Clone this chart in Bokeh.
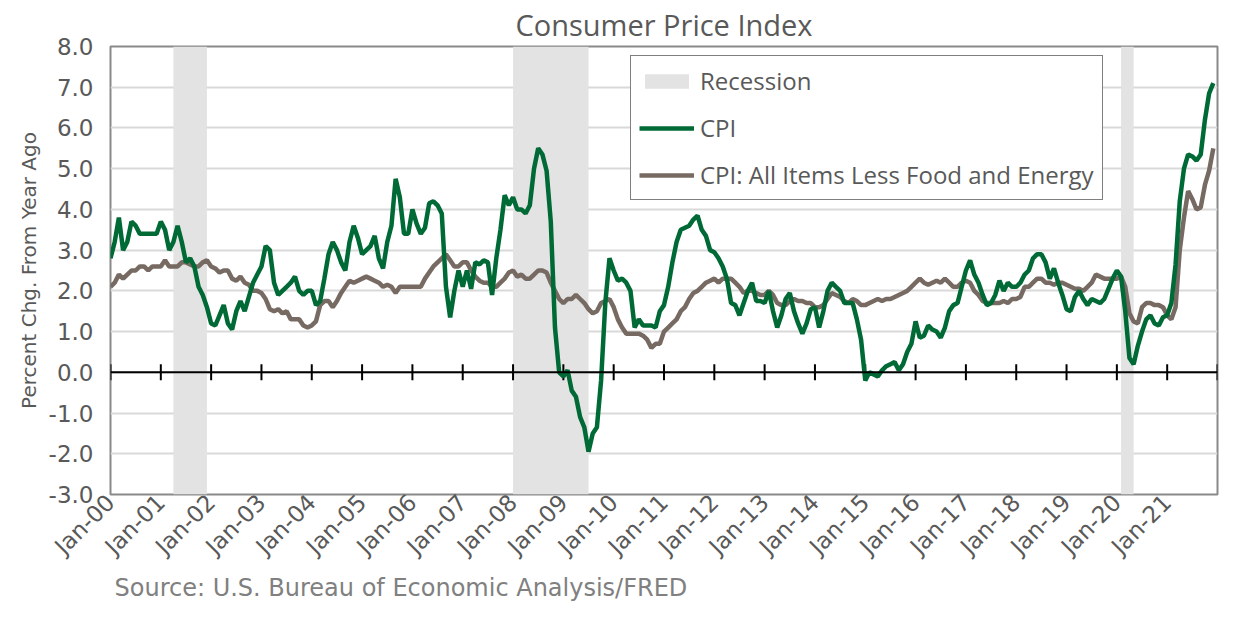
import math
from bokeh.plotting import figure
from bokeh.models import (Range1d, FixedTicker, Span, Legend, LegendItem, Title,
                          NumeralTickFormatter)
from bokeh.embed import file_html
from bokeh.resources import INLINE

# ---------------- data ----------------
start_year = 2000
years = list(range(2000, 2022))
tick_labels = ["Jan-%02d" % (y % 100) for y in years]

cpi = [
    2.8, 3.2, 3.8, 3.0, 3.2, 3.7, 3.6, 3.4, 3.4, 3.4, 3.4, 3.4,          # 2000
    3.7, 3.5, 3.0, 3.2, 3.6, 3.2, 2.7, 2.8, 2.6, 2.1, 1.9, 1.6,          # 2001
    1.2, 1.15, 1.4, 1.65, 1.2, 1.05, 1.5, 1.75, 1.5, 1.85, 2.2, 2.4,     # 2002
    2.6, 3.1, 3.0, 2.2, 1.9, 2.0, 2.1, 2.2, 2.35, 2.0, 1.9, 2.0,         # 2003
    2.0, 1.65, 1.75, 2.3, 2.9, 3.2, 3.0, 2.7, 2.5, 3.2, 3.6, 3.3,        # 2004
    2.9, 3.0, 3.1, 3.35, 2.8, 2.55, 3.2, 3.6, 4.75, 4.3, 3.4, 3.4,       # 2005
    4.0, 3.65, 3.4, 3.55, 4.15, 4.2, 4.1, 3.9, 2.1, 1.35, 2.0, 2.5,      # 2006
    2.1, 2.5, 2.05, 2.7, 2.65, 2.75, 2.7, 1.9, 2.8, 3.5, 4.35, 4.1,      # 2007
    4.3, 4.0, 4.0, 3.9, 4.1, 5.0, 5.5, 5.35, 4.95, 3.7, 1.1, 0.0,        # 2008
    -0.1, 0.05, -0.45, -0.6, -1.1, -1.35, -1.95, -1.5, -1.35, -0.2, 1.7, 2.8,  # 2009
    2.5, 2.25, 2.3, 2.2, 2.0, 1.1, 1.3, 1.15, 1.15, 1.15, 1.1, 1.5,      # 2010
    1.65, 2.1, 2.7, 3.2, 3.5, 3.55, 3.6, 3.75, 3.85, 3.5, 3.35, 3.0,     # 2011
    2.95, 2.8, 2.6, 2.3, 1.7, 1.65, 1.4, 1.7, 2.0, 2.2, 1.75, 1.75,      # 2012
    1.7, 2.0, 1.5, 1.1, 1.4, 1.8, 1.95, 1.5, 1.2, 0.95, 1.2, 1.55,       # 2013
    1.6, 1.1, 1.5, 2.0, 2.2, 2.1, 2.0, 1.7, 1.7, 1.7, 1.3, 0.8,          # 2014
    -0.2, 0.0, -0.05, -0.1, 0.05, 0.15, 0.2, 0.25, 0.05, 0.2, 0.5, 0.7,  # 2015
    1.25, 0.85, 0.9, 1.15, 1.05, 1.0, 0.85, 1.1, 1.5, 1.65, 1.7, 2.1,    # 2016
    2.5, 2.75, 2.4, 2.2, 1.9, 1.65, 1.7, 1.9, 2.25, 2.0, 2.2, 2.1,       # 2017
    2.1, 2.2, 2.4, 2.5, 2.8, 2.9, 2.9, 2.7, 2.3, 2.55, 2.2, 1.9,         # 2018
    1.55, 1.5, 1.85, 2.0, 1.8, 1.65, 1.8, 1.75, 1.7, 1.8, 2.05, 2.3,     # 2019
    2.5, 2.35, 1.5, 0.35, 0.2, 0.65, 1.0, 1.3, 1.4, 1.2, 1.15, 1.35,     # 2020
    1.4, 1.7, 2.65, 4.2, 5.0, 5.35, 5.3, 5.2, 5.35, 6.2, 6.85, 7.1,      # 2021
]

core = [
    2.1, 2.2, 2.4, 2.3, 2.4, 2.5, 2.5, 2.6, 2.6, 2.5, 2.6, 2.6,          # 2000
    2.6, 2.75, 2.6, 2.6, 2.6, 2.7, 2.7, 2.65, 2.6, 2.6, 2.7, 2.75,       # 2001
    2.6, 2.55, 2.45, 2.5, 2.5, 2.3, 2.25, 2.35, 2.2, 2.15, 2.0, 2.0,     # 2002
    1.95, 1.8, 1.55, 1.5, 1.55, 1.45, 1.5, 1.3, 1.3, 1.3, 1.15, 1.1,     # 2003
    1.15, 1.25, 1.65, 1.75, 1.75, 1.6, 1.75, 1.95, 2.1, 2.25, 2.2, 2.25, # 2004
    2.3, 2.35, 2.3, 2.25, 2.2, 2.1, 2.15, 2.1, 1.95, 2.1, 2.1, 2.1,      # 2005
    2.1, 2.1, 2.1, 2.3, 2.45, 2.6, 2.7, 2.8, 2.9, 2.75, 2.6, 2.6,        # 2006
    2.7, 2.7, 2.5, 2.35, 2.25, 2.2, 2.2, 2.1, 2.1, 2.2, 2.3, 2.45,       # 2007
    2.5, 2.35, 2.4, 2.3, 2.3, 2.4, 2.5, 2.5, 2.45, 2.2, 2.0, 1.8,        # 2008
    1.7, 1.8, 1.8, 1.9, 1.8, 1.7, 1.55, 1.45, 1.5, 1.7, 1.75, 1.8,       # 2009
    1.6, 1.3, 1.1, 0.95, 0.95, 0.95, 0.95, 0.9, 0.8, 0.6, 0.7, 0.7,      # 2010
    1.0, 1.1, 1.2, 1.3, 1.5, 1.6, 1.8, 1.95, 2.0, 2.1, 2.2, 2.25,        # 2011
    2.3, 2.2, 2.3, 2.3, 2.3, 2.2, 2.1, 1.95, 2.0, 2.0, 1.95, 1.9,        # 2012
    1.9, 2.0, 1.9, 1.7, 1.65, 1.65, 1.75, 1.8, 1.75, 1.75, 1.7, 1.7,     # 2013
    1.6, 1.6, 1.65, 1.8, 1.95, 1.9, 1.85, 1.75, 1.7, 1.8, 1.75, 1.65,    # 2014
    1.65, 1.7, 1.75, 1.8, 1.75, 1.8, 1.8, 1.85, 1.9, 1.95, 2.0, 2.1,     # 2015
    2.2, 2.3, 2.2, 2.15, 2.2, 2.25, 2.2, 2.3, 2.2, 2.1, 2.1, 2.2,        # 2016
    2.25, 2.2, 2.0, 1.9, 1.75, 1.7, 1.7, 1.7, 1.7, 1.75, 1.7, 1.8,       # 2017
    1.8, 1.85, 2.1, 2.1, 2.2, 2.3, 2.3, 2.2, 2.2, 2.15, 2.2, 2.2,        # 2018
    2.15, 2.1, 2.05, 2.05, 2.0, 2.1, 2.2, 2.4, 2.35, 2.3, 2.3, 2.3,      # 2019
    2.3, 2.35, 2.1, 1.45, 1.25, 1.2, 1.6, 1.7, 1.7, 1.65, 1.65, 1.6,     # 2020
    1.4, 1.3, 1.6, 3.0, 3.8, 4.45, 4.25, 4.0, 4.05, 4.6, 4.95, 5.5,      # 2021
]

# recessions (first month in recession, first month after)
rec_start = ["2001-04", "2008-01", "2020-02"]
rec_end = ["2001-12", "2009-07", "2020-05"]

y_min, y_max = -3.0, 8.0
y_ticks = list(range(-3, 9))
source_text = "Source: U.S. Bureau of Economic Analysis/FRED"

# ---------------- helpers ----------------
def month_index(s):
    yy, mm = s.split("-")
    return (int(yy) - start_year) * 12 + int(mm) - 1

months = list(range(len(cpi)))
n_months = (years[-1] + 1 - start_year) * 12
year_ticks = [(y - start_year) * 12 for y in years]
all_year_ticks = year_ticks + [n_months]
rec_l = [month_index(s) for s in rec_start]
rec_r = [month_index(s) for s in rec_end]

GREEN = "#006a37"
BROWN = "#766a62"
REC = "#e3e3e3"
TXT = "#595959"

p = figure(width=1220, height=601, x_range=Range1d(0, n_months), y_range=Range1d(y_min, y_max),
           output_backend="svg", toolbar_location=None,
           min_border_left=110, min_border_right=3, min_border_top=38, min_border_bottom=100)

p.title.text = "Consumer Price Index"
p.title.align = "center"
p.title.text_font = "Open Sans"
p.title.text_font_size = "29px"
p.title.text_font_style = "normal"
p.title.text_color = TXT
p.title.standoff = 5

p.outline_line_color = "#898989"
p.outline_line_width = 2
p.background_fill_color = "white"

# y axis
p.yaxis.ticker = FixedTicker(ticks=y_ticks)
p.yaxis.formatter = NumeralTickFormatter(format="0.0")
p.yaxis.axis_label = "Percent Chg. From Year Ago"
p.yaxis.axis_label_text_font = "DejaVu Sans"
p.yaxis.axis_label_text_font_size = "20px"
p.yaxis.axis_label_text_font_style = "normal"
p.yaxis.axis_label_text_color = TXT
p.yaxis.major_label_text_font = "DejaVu Sans"
p.yaxis.major_label_text_font_size = "23px"
p.yaxis.major_label_text_color = TXT
p.yaxis.axis_line_color = None
p.yaxis.major_tick_line_color = None
p.yaxis.minor_tick_line_color = None
p.yaxis.major_tick_out = 0
p.yaxis.major_label_standoff = 17

# x label axis (labels only)
p.xaxis.ticker = FixedTicker(ticks=year_ticks)
p.xaxis.major_label_overrides = {t: lab for t, lab in zip(year_ticks, tick_labels)}
p.xaxis.major_label_orientation = math.pi / 4
p.xaxis.major_label_text_font = "DejaVu Sans"
p.xaxis.major_label_text_font_size = "23px"
p.xaxis.major_label_text_color = TXT
p.xaxis.axis_line_color = None
p.xaxis.major_tick_line_color = None
p.xaxis.minor_tick_line_color = None
p.xaxis.major_tick_out = 0
p.xaxis.major_tick_in = 0
p.xaxis.major_label_standoff = 4

p.xgrid.grid_line_color = None
p.ygrid.ticker = FixedTicker(ticks=y_ticks)
p.ygrid.grid_line_color = "#d9d9d9"
p.ygrid.grid_line_width = 2

# recession bars
r_rec = p.quad(left=rec_l, right=rec_r, bottom=y_min, top=y_max, fill_color=REC, line_color=None)

# zero line with year tick marks
p.add_layout(Span(location=0, dimension="width", line_color="black", line_width=2))
p.scatter(x=all_year_ticks, y=[0] * len(all_year_ticks), marker="dash", size=16,
          angle=math.pi / 2, line_color="black", line_width=2)

r_core = p.line(months, core, line_color=BROWN, line_width=4.5)
r_cpi = p.line(months, cpi, line_color=GREEN, line_width=4.5)

legend = Legend(items=[LegendItem(label="Recession", renderers=[r_rec]),
                       LegendItem(label="CPI", renderers=[r_cpi]),
                       LegendItem(label="CPI: All Items Less Food and Energy", renderers=[r_core])],
                location=(520, 294))
legend.border_line_color = "black"
legend.border_line_width = 1.5
legend.background_fill_color = "white"
legend.background_fill_alpha = 1
legend.label_text_font = "Open Sans"
legend.label_text_font_size = "24px"
legend.label_text_color = TXT
legend.glyph_width = 55
legend.glyph_height = 18
legend.label_height = 24
legend.label_standoff = 6
legend.spacing = 14
legend.padding = 8
legend.margin = 0
p.add_layout(legend)

src = Title(text=source_text, align="left", text_font="DejaVu Sans", text_font_size="24px",
            text_font_style="normal", text_color="#808080", offset=4, standoff=0)
p.add_layout(src, "below")

open("out.html", "w").write(file_html(p, INLINE))
